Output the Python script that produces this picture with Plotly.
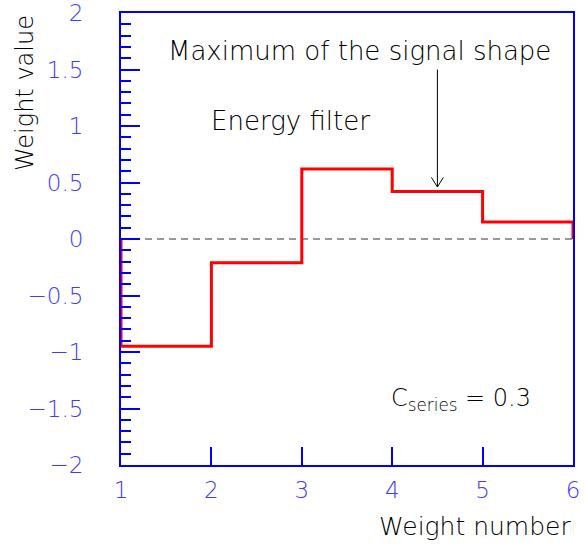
import plotly.graph_objects as go

# ---- data ----
bin_edges = [1, 2, 3, 4, 5, 6]
weights = [-0.95, -0.21, 0.62, 0.42, 0.15]
y_tickvals = [-2, -1.5, -1, -0.5, 0, 0.5, 1, 1.5, 2]
y_ticktext = ["\u22122", "\u22121.5", "\u22121", "\u22120.5", "0", "0.5", "1", "1.5", "2"]
x_tickvals = [1, 2, 3, 4, 5, 6]
x_ticktext = ["1", "2", "3", "4", "5", "6"]
c_series = 0.3
arrow_x = 4.5
arrow_top = 1.50
arrow_tip = 0.46

FONT = "DejaVu Sans ExtraLight, DejaVu Sans"
BLUE = "rgb(0,0,255)"
LBLUE = "rgb(60,60,255)"

# step line through histogram
xs = [bin_edges[0]] + bin_edges[:-1] + [bin_edges[-1], bin_edges[-1]]
ys = [0] + weights + [weights[-1], 0]

fig = go.Figure()
fig.add_trace(go.Scatter(x=xs, y=ys, mode="lines", line=dict(shape="hv", color="rgb(255,0,0)", width=3),
                         showlegend=False, hoverinfo="skip"))

# dashed zero line
fig.add_shape(type="line", xref="x", yref="y", x0=bin_edges[0], x1=bin_edges[-1], y0=0, y1=0,
              line=dict(color="rgb(120,120,120)", width=1.5, dash="7px,5px"), layer="below")

# arrow (line + open V head)
fig.add_shape(type="line", xref="x", yref="y", x0=arrow_x, x1=arrow_x, y0=arrow_top, y1=arrow_tip,
              line=dict(color="black", width=1))
fig.add_shape(type="line", xref="x", yref="y", x0=arrow_x - 0.066, x1=arrow_x, y0=arrow_tip + 0.085, y1=arrow_tip,
              line=dict(color="black", width=1))
fig.add_shape(type="line", xref="x", yref="y", x0=arrow_x + 0.066, x1=arrow_x, y0=arrow_tip + 0.085, y1=arrow_tip,
              line=dict(color="black", width=1))

ann_font = dict(family=FONT, size=26, color="black", weight=200)
fig.add_annotation(x=3.64, y=1.66, xref="x", yref="y", text="Maximum of the signal shape",
                   showarrow=False, font=ann_font, xanchor="center", yanchor="middle")
fig.add_annotation(x=2.878, y=1.04, xref="x", yref="y", text="Energy filter",
                   showarrow=False, font=ann_font, xanchor="center", yanchor="middle")
fig.add_annotation(x=4.757, y=-1.42, xref="x", yref="y",
                   text="C<sub>series</sub> = %s" % c_series,
                   showarrow=False, font=dict(family=FONT, size=24, color="black", weight=200),
                   xanchor="center", yanchor="middle")

# axis titles
fig.add_annotation(x=1, y=0, xref="paper", yref="paper", text="Weight number", showarrow=False,
                   font=dict(family=FONT, size=25, color="black", weight=200), xanchor="right", yanchor="top",
                   yshift=-45)
fig.add_annotation(x=0, y=1, xref="paper", yref="paper", text="Weight value", showarrow=False,
                   textangle=-90, font=dict(family=FONT, size=24, color="black", weight=200),
                   xanchor="center", yanchor="top", xshift=-96, yshift=0)

fig.update_xaxes(range=[bin_edges[0], bin_edges[-1]], tickvals=x_tickvals, ticktext=x_ticktext,
                 ticks="inside", ticklen=18, tickwidth=1.5, tickcolor=BLUE,
                 showline=True, linecolor=BLUE, linewidth=2, mirror=True,
                 showgrid=False, zeroline=False, automargin=False,
                 tickfont=dict(family=FONT, size=23, color=LBLUE, weight=200), ticklabelstandoff=3)
fig.update_yaxes(range=[-2, 2], tickvals=y_tickvals, ticktext=y_ticktext,
                 ticks="inside", ticklen=19, tickwidth=1.5, tickcolor=BLUE,
                 minor=dict(dtick=0.1, ticks="inside", ticklen=10, tickwidth=1.5, tickcolor=BLUE, showgrid=False),
                 showline=True, linecolor=BLUE, linewidth=2, mirror=True,
                 showgrid=False, zeroline=False, automargin=False,
                 tickfont=dict(family=FONT, size=23, color=LBLUE, weight=200), ticklabelstandoff=31)

fig.update_layout(width=587, height=548, margin=dict(l=121, r=14, t=13, b=83),
                  paper_bgcolor="white", plot_bgcolor="white", showlegend=False)

fig.write_html("out.html")
